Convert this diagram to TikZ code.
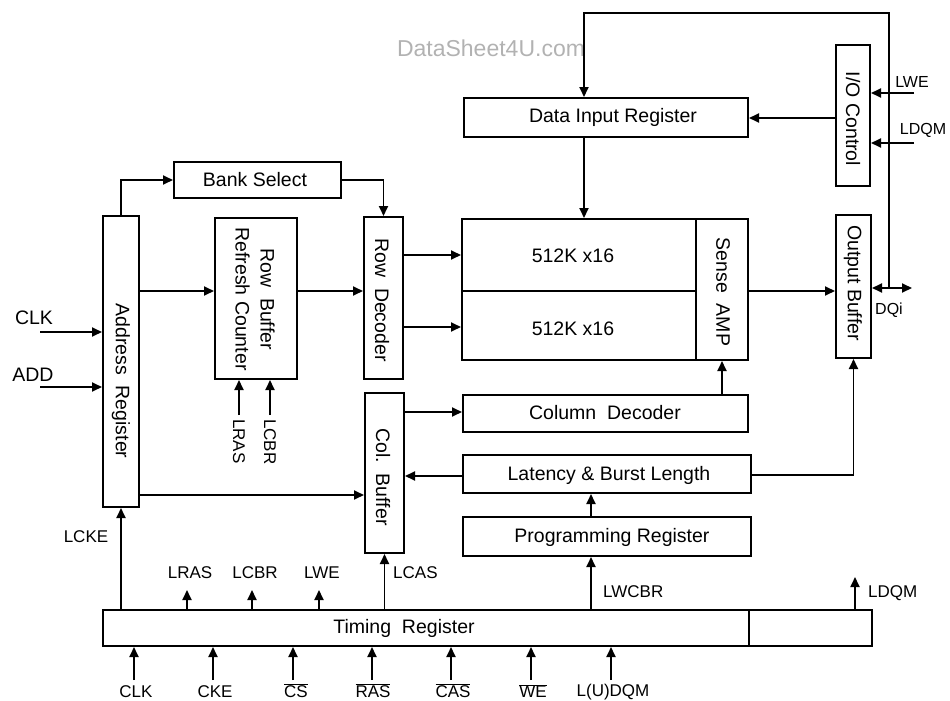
\documentclass[tikz,border=0pt]{standalone}
\usepackage{fontspec}
\setmainfont{Liberation Sans}
\usetikzlibrary{arrows.meta,calc}
\begin{document}
\begin{tikzpicture}[x=1pt,y=-1pt,
  box/.style={draw, line width=2pt, rectangle, inner sep=0pt},
  ln/.style={line width=1.8pt},
  arr/.style={line width=1.8pt, -{Triangle[length=10pt,width=9pt]}},
  arrboth/.style={line width=1.8pt, {Triangle[length=10pt,width=9pt]}-{Triangle[length=10pt,width=9pt]}},
  txt/.style={font=\fontsize{19.5}{25}\selectfont, inner sep=0pt},
  lbl/.style={font=\fontsize{17}{20}\selectfont, inner sep=0pt},
  slbl/.style={font=\fontsize{16}{19}\selectfont, inner sep=0pt}]
\useasboundingbox (0,0) rectangle (950,701);

% watermark
\node[font=\fontsize{23}{23}\selectfont, text=black!30, inner sep=0pt] (wm) at (491,48) {DataSheet4U.com};

% boxes
\node[box, minimum width=36, minimum height=291] (addr) at (121,361.5) {};
\node[box, minimum width=167, minimum height=36] (bank) at (257.5,180) {};
\node[box, minimum width=82, minimum height=161] (rowbuf) at (256,298.5) {};
\node[box, minimum width=39, minimum height=162] (rowdec) at (383.5,298) {};
\node[box, minimum width=234, minimum height=72] (arr1) at (579,255) {};
\node[box, minimum width=234, minimum height=69] (arr2) at (579,325.5) {};
\node[box, minimum width=52, minimum height=141] (sense) at (722,289.5) {};
\node[box, minimum width=284, minimum height=39] (dir) at (606,117.5) {};
\node[box, minimum width=34, minimum height=141] (ioc) at (853,115.5) {};
\node[box, minimum width=35, minimum height=143] (outbuf) at (853.5,286.5) {};
\node[box, minimum width=39, minimum height=160] (colbuf) at (384.5,473) {};
\node[box, minimum width=285, minimum height=37] (coldec) at (605.5,413.5) {};
\node[box, minimum width=288, minimum height=38] (lat) at (607,474) {};
\node[box, minimum width=288, minimum height=39] (prog) at (607,536.5) {};
\node[box, minimum width=646, minimum height=36] (timing) at (426,628) {};
\node[box, minimum width=123, minimum height=36] (timing2) at (810.5,628) {};

% box texts
\node[txt] (tbank) at (255,180) {Bank Select};
\node[txt, rotate=-90] (taddr) at (121,381) {Address\ \ Register};
\node[txt, rotate=-90, align=center] (trowbuf) at (255,299) {Row\ \ Buffer\\Refresh Counter};
\node[txt, rotate=-90] (trowdec) at (382,300) {Row\ \ Decoder};
\node[txt] (tarr1) at (573,256) {512K x16};
\node[txt] (tarr2) at (573,329) {512K x16};
\node[txt, rotate=-90] (tsense) at (723,292) {Sense\ \ AMP};
\node[txt] (tdir) at (613,117) {Data Input Register};
\node[txt, rotate=-90] (tioc) at (853,119) {I/O Control};
\node[txt, rotate=-90] (toutbuf) at (853,283) {Output Buffer};
\node[txt, rotate=-90] (tcolbuf) at (383,477) {Col.\ \ Buffer};
\node[txt] (tcoldec) at (605,413) {Column\ \ Decoder};
\node[txt] (tlat) at (609,475) {Latency \& Burst Length};
\node[txt] (tprog) at (612,537) {Programming Register};
\node[txt] (ttiming) at (404,628) {Timing\ \ Register};

% connectors upper part
\draw[arr] (addr.north) |- (bank.west);
\draw[arr] (bank.east) -| (rowdec.north);
\draw[arr] (addr.east |- 0,291) -- (rowbuf.west |- 0,291);
\draw[arr] (rowbuf.east |- 0,291) -- (rowdec.west |- 0,291);
\draw[arr] (rowdec.east |- arr1.west) -- (arr1.west);
\draw[arr] (rowdec.east |- 0,327) -- (arr2.west |- 0,327);
\coordinate (tap) at (889,288);
\coordinate (dqo) at (912,288);
\draw[arr] (tap) -- (tap |- 0,13) -| ([xshift=-22pt]dir.north);
\draw[arr] ([xshift=-22pt]dir.south) -- ([xshift=-22pt]dir.south |- arr1.north);
\draw[arrboth] (outbuf.east |- tap) -- (dqo);
\draw[arr] (ioc.west |- 0,118) -- (dir.east |- 0,118);
\coordinate (lwein) at (914,93);
\coordinate (ldqmin) at (914,143);
\draw[arr] (lwein) -- (ioc.east |- lwein);
\draw[arr] (ldqmin) -- (ioc.east |- ldqmin);
\draw[arr] (sense.east |- 0,291) -- (outbuf.west |- 0,291);
\coordinate (clkin) at (40,332);
\coordinate (addin) at (40,387);
\draw[arr] (clkin) -- (addr.west |- clkin);
\draw[arr] (addin) -- (addr.west |- addin);
\coordinate (lrasin) at (239,415);
\coordinate (lcbrin) at (270,415);
\draw[arr] (lrasin) -- (lrasin |- rowbuf.south);
\draw[arr] (lcbrin) -- (lcbrin |- rowbuf.south);

% connectors lower part
\draw[arr] (addr.east |- 0,495) -- (colbuf.west |- 0,495);
\draw[arr] (colbuf.east |- 0,412) -- (coldec.west |- 0,412);
\draw[arr] (coldec.north -| sense.south) -- (sense.south);
\draw[arr] (lat.west |- 0,476) -- (colbuf.east |- 0,476);
\draw[arr] ([xshift=-16pt]prog.north) -- ([xshift=-16pt]lat.south);
\draw[arr] (lat.east |- 0,475) -| (outbuf.south);
\draw[arr] ([xshift=-16pt]prog.south |- timing.north) -- ([xshift=-16pt]prog.south);
\draw[arr] (timing.north -| addr.south) -- (addr.south);
\draw[arr] (timing.north -| colbuf.south) -- (colbuf.south);
\coordinate (lrasout) at (187,590);
\coordinate (lcbrout) at (252,590);
\coordinate (lweout) at (319,590);
\coordinate (ldqmout) at (855,577);
\draw[arr] (timing.north -| lrasout) -- (lrasout);
\draw[arr] (timing.north -| lcbrout) -- (lcbrout);
\draw[arr] (timing.north -| lweout) -- (lweout);
\draw[arr] (timing2.north -| ldqmout) -- (ldqmout);
\foreach \x/\n in {134/bclk,213/bcke,293/bcs,372/bras,451/bcas,531/bwe,611/bdqm}{
  \coordinate (\n) at (\x,680);
  \draw[arr] (\n) -- (timing.south -| \n);
}

% labels
\node[txt] (lclk) at (34,318) {CLK};
\node[txt] (ladd) at (33,375) {ADD};
\node[lbl, rotate=-90, anchor=west] (llras) at (239,419) {LRAS};
\node[lbl, rotate=-90, anchor=west] (llcbr) at (270,419) {LCBR};
\node[slbl] (llwe) at (912,82) {LWE};
\node[slbl] (lldqm) at (923,130) {LDQM};
\node[slbl] (ldqi) at (889,310) {DQi};
\node[lbl] (llcke) at (86,537) {LCKE};
\node[lbl] (llras2) at (190,573) {LRAS};
\node[lbl] (llcbr2) at (255,573) {LCBR};
\node[lbl] (llwe2) at (322,573) {LWE};
\node[lbl, anchor=west] (llcas) at (393,573) {LCAS};
\node[lbl, anchor=west] (llwcbr) at (603,592) {LWCBR};
\node[lbl, anchor=west] (lldqm2) at (868,593) {LDQM};
\node[lbl] (lbclk) at (136,692) {CLK};
\node[lbl] (lbcke) at (215,692) {CKE};
\node[lbl] (lbcs) at (296,691) {$\overline{\mbox{CS}}$};
\node[lbl] (lbras) at (373,691) {$\overline{\mbox{RAS}}$};
\node[lbl] (lbcas) at (453,691) {$\overline{\mbox{CAS}}$};
\node[lbl] (lbwe) at (533,691) {$\overline{\mbox{WE}}$};
\node[lbl] (lbdqm) at (613,692) {L(U)DQM};
\end{tikzpicture}
\end{document}
